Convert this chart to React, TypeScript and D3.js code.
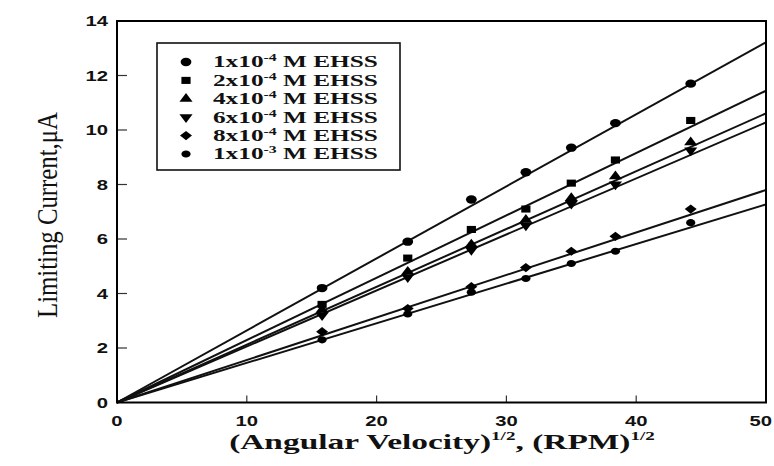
import React, { useEffect, useRef } from 'react';
import * as d3 from 'd3';

const W = 774;
const H = 466;

// Square root of rotation rate, (RPM)^1/2
const sqrtRpm = [15.8, 22.4, 27.3, 31.5, 35.0, 38.4, 44.2];

// Limiting current (µA) for each EHSS concentration
const current1e4 = [4.2, 5.9, 7.45, 8.45, 9.35, 10.25, 11.7];
const current2e4 = [3.6, 5.3, 6.35, 7.1, 8.05, 8.9, 10.35];
const current4e4 = [3.4, 4.8, 5.8, 6.7, 7.5, 8.3, 9.55];
const current6e4 = [3.2, 4.6, 5.6, 6.5, 7.3, 8.0, 9.25];
const current8e4 = [2.6, 3.45, 4.25, 4.95, 5.55, 6.1, 7.1];
const current1e3 = [2.3, 3.25, 4.05, 4.55, 5.1, 5.55, 6.6];

// Linear fits through the origin, value of each fit at (RPM)^1/2 = 50
const fitAtFifty = [13.22, 11.44, 10.61, 10.28, 7.8, 7.27];

const legendBase = ['1x10', '2x10', '4x10', '6x10', '8x10', '1x10'];
const legendExp = ['-4', '-4', '-4', '-4', '-4', '-3'];
const legendUnit = ' M EHSS';

const xTicks = [0, 10, 20, 30, 40, 50];
const yTicks = [0, 2, 4, 6, 8, 10, 12, 14];

const seriesValues = [current1e4, current2e4, current4e4, current6e4, current8e4, current1e3];
const markerKinds = ['circle', 'square', 'triangleUp', 'triangleDown', 'diamond', 'smallCircle'];

const serif = '"Liberation Serif", "Times New Roman", serif';
const sans = '"Liberation Sans", Arial, sans-serif';

function markerPath(kind: string): string {
  const sym = d3.symbol();
  switch (kind) {
    case 'circle':
      return sym.type(d3.symbolCircle).size(54)() as string;
    case 'square':
      return sym.type(d3.symbolSquare).size(50)() as string;
    case 'triangleUp':
    case 'triangleDown':
      return sym.type(d3.symbolTriangle).size(44)() as string;
    case 'diamond':
      return sym.type(d3.symbolDiamond2).size(54)() as string;
    default:
      return sym.type(d3.symbolCircle).size(40)() as string;
  }
}

function markerTransform(kind: string, cx: number, cy: number): string {
  const rot = kind === 'triangleDown' ? ' rotate(180)' : '';
  return `translate(${cx},${cy}) scale(1.3,1)${rot}`;
}

function stretchTo(sel: d3.Selection<SVGTextElement, unknown, null, undefined>, target: number, ax: number) {
  const node = sel.node();
  if (!node) return;
  const w = node.getBBox().width;
  if (!w) return;
  const k = target / w;
  sel.attr('transform', `translate(${ax},0) scale(${k},1) translate(${-ax},0)`);
}

export default function App() {
  const ref = useRef<SVGSVGElement | null>(null);

  useEffect(() => {
    const svg = d3.select(ref.current as SVGSVGElement);
    svg.selectAll('*').remove();

    const x = d3.scaleLinear().domain([0, 50]).range([117, 766]);
    const y = d3.scaleLinear().domain([0, 14]).range([402.5, 21]);

    // fit lines
    const lineGen = d3.line<[number, number]>().x((d) => x(d[0])).y((d) => y(d[1]));
    const lines = svg.append('g');
    fitAtFifty.forEach((v) => {
      lines
        .append('path')
        .attr('d', lineGen([[0, 0], [50, v]]) as string)
        .attr('fill', 'none')
        .attr('stroke', '#111')
        .attr('stroke-width', 2);
    });

    // markers
    const marks = svg.append('g');
    seriesValues.forEach((vals, si) => {
      const kind = markerKinds[si];
      const d = markerPath(kind);
      vals.forEach((v, i) => {
        marks
          .append('path')
          .attr('d', d)
          .attr('transform', markerTransform(kind, x(sqrtRpm[i]), y(v)))
          .attr('fill', '#000');
      });
    });

    // ticks (inward)
    const ticks = svg.append('g').attr('stroke', '#333').attr('stroke-width', 1.2);
    xTicks.slice(1, -1).forEach((t) => {
      ticks.append('line').attr('x1', x(t)).attr('x2', x(t)).attr('y1', y(0)).attr('y2', y(0) - 7);
    });
    yTicks.slice(1, -1).forEach((t) => {
      ticks.append('line').attr('x1', x(0)).attr('x2', x(0) + 10).attr('y1', y(t)).attr('y2', y(t));
    });

    // frame
    svg
      .append('rect')
      .attr('x', x(0))
      .attr('y', y(14))
      .attr('width', x(50) - x(0))
      .attr('height', y(0) - y(14))
      .attr('fill', 'none')
      .attr('stroke', '#000')
      .attr('stroke-width', 2);

    // tick labels
    const tl = svg.append('g').attr('font-family', sans).attr('font-weight', 'bold').attr('font-size', 15).attr('fill', '#111');
    xTicks.forEach((t) => {
      const tx = tl
        .append('text')
        .attr('x', x(t))
        .attr('y', 426)
        .attr('text-anchor', 'middle')
        .text(String(t));
      const w = (tx.node() as SVGTextElement).getBBox().width;
      let ax = x(t);
      const half = (w * 1.35) / 2;
      if (ax + half > 772) {
        ax = 772 - half;
        tx.attr('x', ax);
      }
      stretchTo(tx, w * 1.35, ax);
    });
    yTicks.forEach((t) => {
      const ty = tl
        .append('text')
        .attr('x', 108)
        .attr('y', y(t))
        .attr('dy', '0.36em')
        .attr('text-anchor', 'end')
        .text(String(t));
      const w = (ty.node() as SVGTextElement).getBBox().width;
      stretchTo(ty, w * 1.35, 108);
    });

    // axis titles
    const xt = svg
      .append('text')
      .attr('x', 442)
      .attr('y', 449)
      .attr('text-anchor', 'middle')
      .attr('font-family', serif)
      .attr('font-weight', 'bold')
      .attr('font-size', 21)
      .attr('fill', '#111');
    xt.append('tspan').text('(Angular Velocity)');
    xt.append('tspan').attr('font-size', 12).attr('dy', -9).text('1/2');
    xt.append('tspan').attr('dy', 9).text(', (RPM)');
    xt.append('tspan').attr('font-size', 12).attr('dy', -9).text('1/2');
    stretchTo(xt, 426, 442);

    svg
      .append('text')
      .attr('transform', 'translate(57,215) rotate(-90)')
      .attr('text-anchor', 'middle')
      .attr('font-family', serif)
      .attr('font-size', 30)
      .attr('fill', '#111')
      .attr('textLength', 206)
      .attr('lengthAdjust', 'spacingAndGlyphs')
      .text('Limiting Current,\u03BCA');

    // legend
    const lg = svg.append('g');
    lg.append('rect')
      .attr('x', 157)
      .attr('y', 43)
      .attr('width', 243)
      .attr('height', 127)
      .attr('fill', '#fff')
      .attr('stroke', '#111')
      .attr('stroke-width', 1.6);
    markerKinds.forEach((kind, i) => {
      const cy = 62 + i * 18.4;
      lg.append('path').attr('d', markerPath(kind)).attr('transform', markerTransform(kind, 186, cy)).attr('fill', '#000');
      const t = lg
        .append('text')
        .attr('x', 213)
        .attr('y', cy + 5.5)
        .attr('font-family', serif)
        .attr('font-weight', 'bold')
        .attr('font-size', 16)
        .attr('fill', '#111');
      t.append('tspan').text(legendBase[i]);
      t.append('tspan').attr('font-size', 10).attr('dy', -6).text(legendExp[i]);
      t.append('tspan').attr('dy', 6).text(legendUnit);
      stretchTo(t, 165, 213);
    });
  }, []);

  return (
    <svg
      ref={ref}
      width={W}
      height={H}
      viewBox={`0 0 ${W} ${H}`}
      style={{ position: 'absolute', left: 0, top: 0, background: '#fff' }}
    />
  );
}
